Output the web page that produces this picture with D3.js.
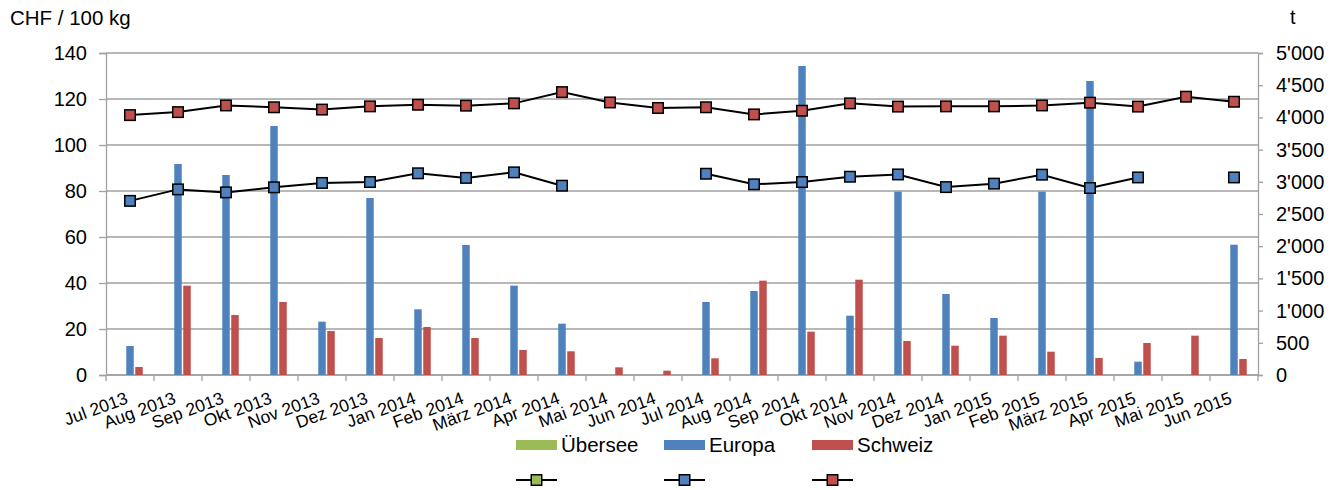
<!DOCTYPE html>
<html>
<head>
<meta charset="utf-8">
<script src="https://cdn.jsdelivr.net/npm/d3@7"></script>
<style>
  body { margin: 0; background: #fff; }
  text { font-family: "Liberation Sans", Arial, sans-serif; fill: #000; }
</style>
</head>
<body>
<div class="content"></div>
<script>
// months on the x axis
var months = ["Jul 2013","Aug 2013","Sep 2013","Okt 2013","Nov 2013","Dez 2013",
  "Jan 2014","Feb 2014","März 2014","Apr 2014","Mai 2014","Jun 2014",
  "Jul 2014","Aug 2014","Sep 2014","Okt 2014","Nov 2014","Dez 2014",
  "Jan 2015","Feb 2015","März 2015","Apr 2015","Mai 2015","Jun 2015"];

var seriesNames = ["Übersee", "Europa", "Schweiz"];
var seriesColors = ["#9BBB59", "#4F81BD", "#C0504D"];

// quantities in t (right axis)
var tUebersee = [null,null,null,null,null,null,null,null,null,null,null,null,
  null,null,null,null,null,null,null,null,null,null,null,null];
var tEuropa = [450,3276,3106,3866,828,2748,1020,2019,1387,797,null,null,
  1134,1304,4798,921,2847,1258,885,2847,4565,207,null,2023];
var tSchweiz = [124,1387,932,1134,683,575,745,575,388,368,119,67,
  259,1465,673,1480,528,455,611,362,264,497,611,248];

// prices in CHF / 100 kg (left axis)
var pUebersee = [null,null,null,null,null,null,null,null,null,null,null,null,
  null,null,null,null,null,null,null,null,null,null,null,null];
var pEuropa = [75.7,80.7,79.4,81.6,83.5,83.9,87.7,85.7,88.1,82.3,null,null,
  87.5,82.9,83.9,86.2,87.2,81.7,83.2,87.1,81.3,85.9,null,85.9];
var pSchweiz = [113.0,114.3,117.2,116.4,115.4,116.8,117.5,117.1,118.1,123.0,118.5,116.1,
  116.4,113.3,114.9,118.1,116.7,116.8,116.8,117.2,118.4,116.7,121.0,118.8];

var leftTicks = [0,20,40,60,80,100,120,140];
var rightTicks = [0,500,1000,1500,2000,2500,3000,3500,4000,4500,5000];

var W = 1341, H = 490;
var plot = {left: 106, right: 1258, top: 53, bottom: 375};

var svg = d3.select(".content")
    .append("svg")
    .attr("width", W)
    .attr("height", H);

var x = d3.scaleBand()
    .domain(months)
    .range([plot.left, plot.right]);

var yL = d3.scaleLinear().domain([0, 140]).range([plot.bottom, plot.top]);
var yR = d3.scaleLinear().domain([0, 5000]).range([plot.bottom, plot.top]);

var sub = d3.scaleBand()
    .domain(seriesNames)
    .range([-13.5, 13.5])
    .paddingInner(1/6)
    .paddingOuter(1/12);

var swiss = d3.formatLocale({decimal: ".", thousands: "'", grouping: [3], currency: ["", ""]});
var fmtT = swiss.format(",");

var gridColor = "#a0a0a0";

// gridlines
svg.append("g")
    .selectAll("line")
    .data(leftTicks)
    .enter().append("line")
    .attr("x1", plot.left).attr("x2", plot.right)
    .attr("y1", function(d) { return yL(d); })
    .attr("y2", function(d) { return yL(d); })
    .attr("stroke", gridColor)
    .attr("stroke-width", 1.3);

// left axis
var gl = svg.append("g")
    .attr("transform", "translate(" + plot.left + ",0)")
    .call(d3.axisLeft(yL).tickValues(leftTicks).tickSize(7).tickPadding(12));
gl.selectAll("text").style("font-size", "20px");

// right axis
var gr = svg.append("g")
    .attr("transform", "translate(" + plot.right + ",0)")
    .call(d3.axisRight(yR).tickValues(rightTicks).tickSize(5).tickPadding(13).tickFormat(fmtT));
gr.selectAll("text").style("font-size", "20px");

[gl, gr].forEach(function(g) {
  g.select(".domain").attr("stroke", gridColor).attr("stroke-width", 1.3);
  g.selectAll(".tick line").attr("stroke", gridColor).attr("stroke-width", 1.3);
});

// x axis: ticks between categories
var xg = svg.append("g");
xg.append("line")
    .attr("x1", plot.left).attr("x2", plot.right)
    .attr("y1", plot.bottom).attr("y2", plot.bottom)
    .attr("stroke", gridColor).attr("stroke-width", 1.3);
xg.selectAll(".xt")
    .data(months.concat(["end"]))
    .enter().append("line")
    .attr("class", "xt")
    .attr("x1", function(d) { return d === "end" ? plot.right : x(d); })
    .attr("x2", function(d) { return d === "end" ? plot.right : x(d); })
    .attr("y1", plot.bottom).attr("y2", plot.bottom + 6)
    .attr("stroke", gridColor).attr("stroke-width", 1.3);
xg.selectAll(".xl")
    .data(months)
    .enter().append("text")
    .attr("class", "xl")
    .attr("text-anchor", "end")
    .style("font-size", "17.5px")
    .attr("transform", function(d) {
      return "translate(" + (x(d) + x.bandwidth() / 2 - 1) + "," + (plot.bottom + 28) + ") rotate(-20)";
    })
    .text(function(d) { return d; });

// bars
var tSeries = [tUebersee, tEuropa, tSchweiz];
tSeries.forEach(function(vals, s) {
  svg.append("g")
    .selectAll("rect")
    .data(months.map(function(m, i) { return {m: m, v: vals[i]}; })
      .filter(function(d) { return d.v != null; }))
    .enter().append("rect")
    .attr("x", function(d) { return x(d.m) + x.bandwidth() / 2 + sub(seriesNames[s]); })
    .attr("width", sub.bandwidth())
    .attr("y", function(d) { return yR(d.v); })
    .attr("height", function(d) { return yR(0) - yR(d.v); })
    .attr("fill", seriesColors[s]);
});

// price lines
var pSeries = [pUebersee, pEuropa, pSchweiz];
var line = d3.line()
    .defined(function(d) { return d.v != null; })
    .x(function(d) { return x(d.m) + x.bandwidth() / 2; })
    .y(function(d) { return yL(d.v); });

pSeries.forEach(function(vals, s) {
  var pts = months.map(function(m, i) { return {m: m, v: vals[i]}; });
  svg.append("path")
    .datum(pts)
    .attr("fill", "none")
    .attr("stroke", "#000")
    .attr("stroke-width", 2)
    .attr("d", line);
  svg.append("g")
    .selectAll("rect")
    .data(pts.filter(function(d) { return d.v != null; }))
    .enter().append("rect")
    .attr("x", function(d) { return x(d.m) + x.bandwidth() / 2 - 5.25; })
    .attr("y", function(d) { return yL(d.v) - 5.25; })
    .attr("width", 10.5).attr("height", 10.5)
    .attr("fill", seriesColors[s])
    .attr("stroke", "#000")
    .attr("stroke-width", 1.5);
});

// axis titles
svg.append("text").attr("x", 10).attr("y", 25).style("font-size", "20.5px").text("CHF / 100 kg");
svg.append("text").attr("x", 1290).attr("y", 24).style("font-size", "20px").text("t");

// legend
var leg = svg.append("g");
seriesNames.forEach(function(name, i) {
  var lx = 516 + i * 148;
  leg.append("rect")
    .attr("x", lx).attr("y", 440)
    .attr("width", 41).attr("height", 10)
    .attr("fill", seriesColors[i]);
  leg.append("text")
    .attr("x", lx + 45).attr("y", 452)
    .style("font-size", "20.5px")
    .text(name);
  leg.append("line")
    .attr("x1", lx).attr("x2", lx + 41)
    .attr("y1", 480).attr("y2", 480)
    .attr("stroke", "#000").attr("stroke-width", 2);
  leg.append("rect")
    .attr("x", lx + 15.25).attr("y", 474.75)
    .attr("width", 10.5).attr("height", 10.5)
    .attr("fill", seriesColors[i])
    .attr("stroke", "#000").attr("stroke-width", 1.5);
});
</script>
</body>
</html>
